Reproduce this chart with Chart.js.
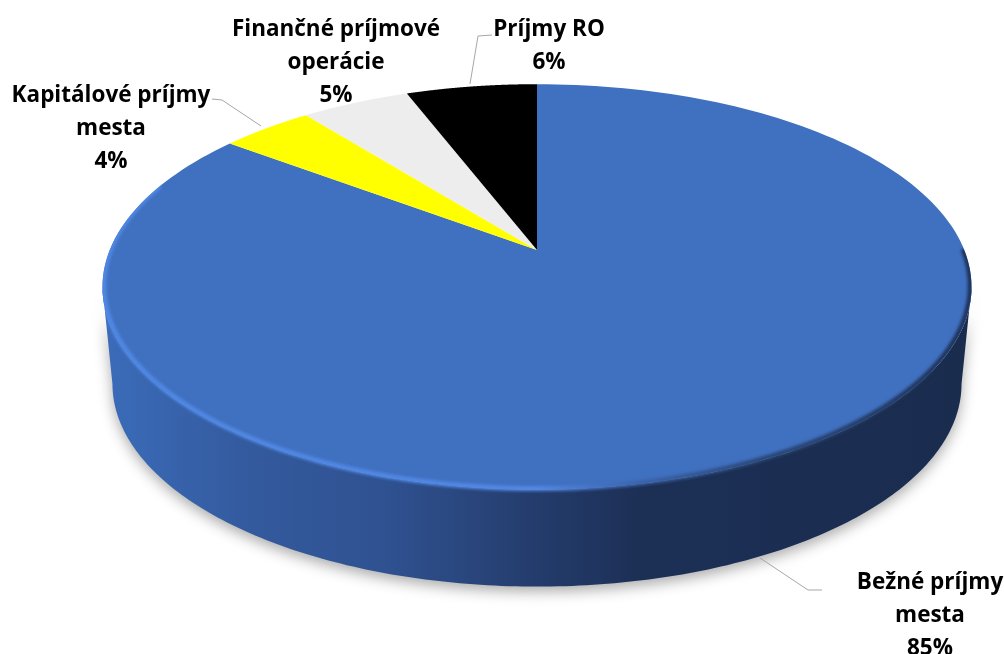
<!DOCTYPE html>
<html>
<head>
<meta charset="utf-8">
<title>Príjmy mesta</title>
<script src="https://cdn.jsdelivr.net/npm/chart.js@4"></script>
<style>
	html, body { margin: 0; padding: 0; background: #fff; }
	canvas { display: block; }
</style>
</head>
<body>
<canvas id="prijmyChart" width="1004" height="654"></canvas>
<script>
// data, clockwise from 12 o'clock
const categories = ['Bežné príjmy mesta', 'Kapitálové príjmy mesta', 'Finančné príjmové operácie', 'Príjmy RO'];
const labelLines = [['Bežné príjmy', 'mesta'], ['Kapitálové príjmy', 'mesta'], ['Finančné príjmové', 'operácie'], ['Príjmy RO']];
const values = [85.3, 4.1, 4.8, 5.8];
const sliceColors = ['#4070c0', '#ffff00', '#ededed', '#000000'];

// label placement: centre x, first baseline y, then leader line points
const labelX = [930, 111, 336, 549];
const labelY = [589, 102, 36, 36];
const leaderLines = [
	[[760, 558], [808, 590], [822, 590]],
	[[212, 99], [222, 100], [261, 126]],
	[],
	[[492, 35], [478, 36], [470, 84]],
];

const LINE_HEIGHT = 33;
const X_STRETCH = 2.18; // pie is drawn as a tilted disc, wider than tall
const TILT = 0.182; // perspective: back of the disc is compressed
const DEPTH = 97;
const BOTTOM_SCALE = 0.977;
const WIDEST = 100.5; // angle where the disc outline is widest

// project an angle (library arc angle) on to the tilted disc
function project(arc, angle, scaleX, shiftY) {
	const t = angle + Math.PI / 2;
	const w = 1 + TILT * Math.cos(t);
	return [
		arc.x + (arc.outerRadius * X_STRETCH * scaleX * Math.sin(t)) / w,
		arc.y + shiftY - (arc.outerRadius * Math.cos(t)) / w,
	];
}

function traceEdge(ctx, arc, from, to, scaleX, shiftY) {
	const steps = 200;
	for (let i = 0; i <= steps; i++) {
		const p = project(arc, from + ((to - from) * i) / steps, scaleX, shiftY);
		ctx.lineTo(p[0], p[1]);
	}
}

function deg(d) {
	return ((d - 90) * Math.PI) / 180;
}

function traceSide(ctx, arc) {
	traceEdge(ctx, arc, deg(WIDEST), deg(360 - WIDEST), 1, 0);
	traceEdge(ctx, arc, deg(360 - WIDEST), deg(WIDEST), BOTTOM_SCALE, DEPTH);
	ctx.closePath();
}

const discPlugin = {
	id: 'disc',
	beforeDatasetDraw(chart) {
		const ctx = chart.ctx;
		const arcs = chart.getDatasetMeta(0).data;
		const arc = arcs[0];

		// side wall
		const side = ctx.createLinearGradient(101, 0, 973, 0);
		side.addColorStop(0, '#3b6cba');
		side.addColorStop(0.16, '#345b9f');
		side.addColorStop(0.33, '#2f5190');
		side.addColorStop(0.5, '#243c6c');
		side.addColorStop(0.62, '#1c2f55');
		side.addColorStop(1, '#1a2c4e');
		ctx.save();
		ctx.shadowColor = 'rgba(0,0,0,0.33)';
		ctx.shadowBlur = 14;
		ctx.shadowOffsetY = 5;
		ctx.fillStyle = side;
		ctx.beginPath();
		traceSide(ctx, arc);
		ctx.fill();
		ctx.restore();

		// top face, one path per slice
		arcs.forEach(function (a) {
			ctx.fillStyle = a.options.backgroundColor;
			ctx.beginPath();
			ctx.moveTo(a.x, a.y);
			traceEdge(ctx, a, a.startAngle, a.endAngle, 1, 0);
			ctx.closePath();
			ctx.fill();
		});

		// bevel along the front edge, kept inside the silhouette
		const rim = ctx.createLinearGradient(101, 0, 973, 0);
		rim.addColorStop(0, '#4f88e4');
		rim.addColorStop(0.5, '#5288e4');
		rim.addColorStop(0.62, '#3a62a8');
		rim.addColorStop(0.76, '#2a4675');
		rim.addColorStop(1, '#1d3156');
		ctx.save();
		ctx.beginPath();
		traceEdge(ctx, arc, deg(0), deg(360), 1, 0);
		ctx.closePath();
		ctx.moveTo(0, 0);
		traceSide(ctx, arc);
		ctx.clip();
		ctx.filter = 'blur(1.5px)';
		ctx.strokeStyle = rim;
		ctx.lineWidth = 5;
		ctx.beginPath();
		traceEdge(ctx, arc, deg(90), deg(290), 0.997, -1);
		ctx.stroke();
		ctx.restore();

		return false;
	},
	afterDatasetsDraw(chart) {
		const ctx = chart.ctx;
		ctx.save();
		ctx.strokeStyle = '#a6a6a6';
		ctx.lineWidth = 1;
		leaderLines.forEach(function (pts) {
			if (!pts.length) return;
			ctx.beginPath();
			pts.forEach(function (p) {
				ctx.lineTo(p[0], p[1]);
			});
			ctx.stroke();
		});
		ctx.fillStyle = '#000';
		ctx.font = 'bold 22.5px "Open Sans"';
		ctx.textAlign = 'center';
		labelLines.forEach(function (lines, i) {
			const all = lines.concat([Math.round(values[i]) + '%']);
			all.forEach(function (line, j) {
				ctx.fillText(line, labelX[i], labelY[i] + j * LINE_HEIGHT);
			});
		});
		ctx.restore();
	},
};

new Chart(document.getElementById('prijmyChart').getContext('2d'), {
	type: 'pie',
	data: {
		labels: categories,
		datasets: [{ data: values, backgroundColor: sliceColors, borderWidth: 0 }],
	},
	options: {
		responsive: false,
		animation: false,
		layout: { padding: { top: 54, bottom: 208, left: 109, right: 39 } },
		plugins: { legend: { display: false }, tooltip: { enabled: false } },
	},
	plugins: [discPlugin],
});
</script>
</body>
</html>
